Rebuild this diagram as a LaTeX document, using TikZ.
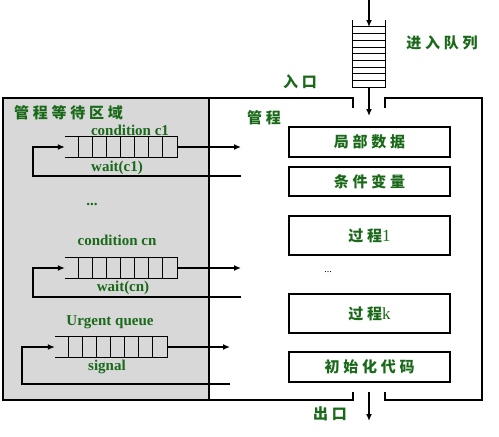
\documentclass[tikz,border=0pt]{standalone}
\usepackage{fontspec}
\setmainfont{Liberation Serif}
\newfontfamily\cjk{Noto Sans CJK SC}[LetterSpace=25]
\usepackage{tikz}
\usetikzlibrary{calc}
\usetikzlibrary{arrows.meta}
\definecolor{waitgray}{RGB}{216,216,216}
\definecolor{labelgreen}{RGB}{25,105,25}
\def\hqueue(#1){ \draw[qline] (#1.north west) -- (#1.north east) -- (#1.south east) -- (#1.south west);
  \foreach \k in {1,...,7} \draw[qline] ($(#1.north west)+(14*\k,0)$) -- ($(#1.south west)+(14*\k,0)$); }
\tikzstyle{frame} = [line width=1.6pt]
\tikzstyle{qline} = [line width=1.3pt]
\tikzstyle{flow} = [line width=1.3pt, -{Latex[length=7pt,width=6pt]}]
\tikzstyle{qbox} = [draw=none, inner sep=0pt, minimum width=112pt, minimum height=20pt]
\tikzstyle{part} = [draw, line width=1.6pt, inner sep=0pt, minimum width=161pt, text=labelgreen, font=\cjk\bfseries\fontsize{15}{17}\selectfont]
\tikzstyle{cn} = [inner sep=0pt, text=labelgreen, font=\cjk\bfseries\fontsize{15}{17}\selectfont]
\tikzstyle{en} = [inner sep=0pt, text=labelgreen, font=\bfseries\fontsize{15}{17}\selectfont]

\begin{document}
\begin{tikzpicture}[x=1pt,y=-1pt]
                        \useasboundingbox (0,0) rectangle (499,437);
                        % waiting area and monitor wall
                        \fill[waitgray] (3,98) rectangle (209,400);
                        \draw[frame] (209,98) -- (209,400);
                        \draw[frame] (353,108) -- (353,98) -- (3,98) -- (3,400) -- (353,400) -- (353,392);
                        \draw[frame] (385,108) -- (385,98) -- (482,98) -- (482,400) -- (385,400) -- (385,392);

                        % entry queue
                        \node[draw=none, inner sep=0pt, minimum width=32pt, minimum height=67pt](inq) at (369,53.5) {};
                        \draw[qline] (inq.north west) -- (inq.south west) -- (inq.south east) -- (inq.north east);
                        \foreach \k in {1,...,9} \draw[line width=1pt] ($(inq.south west)+(0,-6.7*\k)$) -- ($(inq.south east)+(0,-6.7*\k)$);
                        \coordinate (src) at (369,0);
                        \coordinate (inqtop) at (369,27);
                        \coordinate (entry) at (369,116);
                        \draw[flow](src) -- (inqtop);
                        \draw[flow](inq.south) -- (entry);
                        \node[cn](enterq) at (442,43) {进入队列};
                        \node[cn](entrylbl) at (300,82) {入口};
                        \node[cn, anchor=west](monitor) at (247,118) {管程};

                        % monitor parts
                        \node[part, minimum height=30pt](local) at (369.5,142) {局部数据};
                        \node[part, minimum height=29pt](condvar) at (369.5,181.5) {条件变量};
                        \node[part, minimum height=39pt](proc1) at (369.5,235.5) {过程{\rmfamily\mdseries\fontsize{17}{19}\selectfont 1}};
                        \node[inner sep=0pt](pdots) at (328,272) {...};
                        \node[part, minimum height=39pt](prock) at (369.5,313.5) {过程{\rmfamily\mdseries\fontsize{17}{19}\selectfont k}};
                        \node[part, minimum height=30pt](init) at (369.5,367) {初始化代码};

                        % exit
                        \coordinate (exitgap) at (369,392);
                        \coordinate (exitend) at (369,421);
                        \draw[flow](exitgap) -- (exitend);
                        \node[cn](exitlbl) at (330,414) {出口};

                        % waiting queues
                        \node[cn, anchor=west](waitarea) at (14,113) {管程等待区域};

                        \node[qbox](c1) at (121,147) {};
                        \hqueue(c1)
                        \node[en](c1lbl) at (130,130) {condition c1};
                        \node[en](c1wait) at (117,168) {wait(c1)};
                        \coordinate (c1out) at (241,147);
                        \coordinate (c1back) at (241,176);
                        \coordinate (c1turn) at (33,176);
                        \draw[flow](c1) -- (c1out);
                        \draw[flow](c1back) -- (c1turn) |- (c1.west);

                        \node[en](vdots) at (92,204) {...};

                        \node[qbox](cn) at (121,268) {};
                        \hqueue(cn)
                        \node[en](cnlbl) at (117,240) {condition cn};
                        \node[en](cnwait) at (123,288) {wait(cn)};
                        \coordinate (cnout) at (241,268);
                        \coordinate (cnback) at (241,297);
                        \coordinate (cnturn) at (33,297);
                        \draw[flow](cn) -- (cnout);
                        \draw[flow](cnback) -- (cnturn) |- (cn.west);

                        \node[qbox](urg) at (111,347) {};
                        \hqueue(urg)
                        \node[en](urglbl) at (110,322) {Urgent queue};
                        \node[en](urgsig) at (107,367) {signal};
                        \coordinate (urgout) at (230,347);
                        \coordinate (urgback) at (230,384);
                        \coordinate (urgturn) at (22,384);
                        \draw[flow](urg) -- (urgout);
                        \draw[flow](urgback) -- (urgturn) |- (urg.west);
                    \end{tikzpicture}
\end{document}
